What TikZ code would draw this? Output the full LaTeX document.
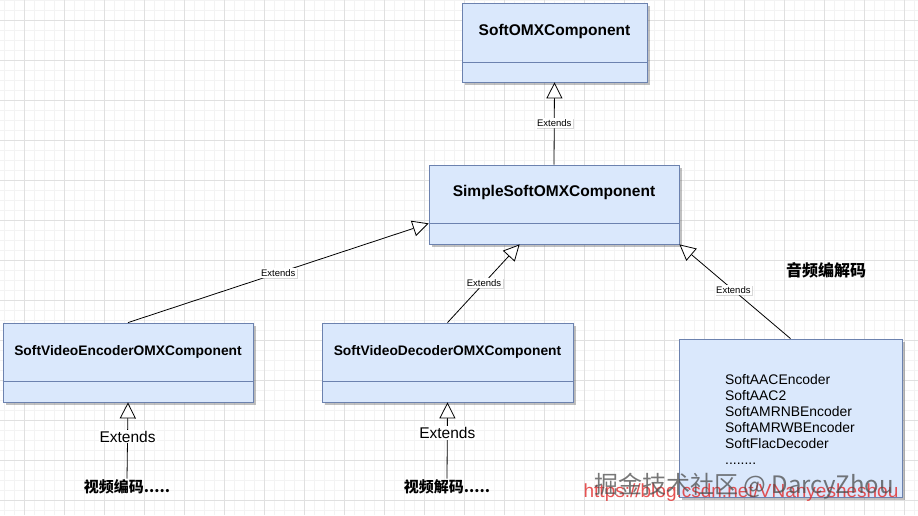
\documentclass[tikz,border=0pt]{standalone}
\usepackage{fontspec}
\setmainfont{Liberation Sans}
\newfontfamily\cjk{Noto Sans CJK SC}
\usetikzlibrary{arrows.meta,shadows,calc}

\definecolor{boxfill}{RGB}{218,232,252}
\definecolor{boxline}{RGB}{108,130,175}
\definecolor{gridmaj}{RGB}{224,224,224}
\definecolor{gridmin}{RGB}{243,243,243}
\definecolor{wmred}{RGB}{225,40,40}

\begin{document}
\begin{tikzpicture}[x=1pt,y=-1pt,
  umlbox/.style={draw=boxline, fill=boxfill, line width=0.8pt, inner sep=0pt,
    drop shadow={shadow xshift=3pt, shadow yshift=-3pt, opacity=0.35, fill=black!70}},
  divider/.style={draw=boxline, line width=0.7pt},
  bigtitle/.style={font=\bfseries\fontsize{15.5}{17}\selectfont, inner sep=0pt},
  smalltitle/.style={font=\bfseries\fontsize{13.8}{15}\selectfont, inner sep=0pt},
  ext/.style={draw=black, line width=0.8pt, -{Triangle[length=16pt,width=16pt,fill=white,line width=0.8pt]}},
  extlabel/.style={font=\fontsize{9.5}{10}\selectfont, fill=white, inner sep=1.5pt,
    drop shadow={shadow xshift=1.2pt, shadow yshift=-1.2pt, opacity=0.3}},
  biglabel/.style={font=\fontsize{15.5}{16}\selectfont, fill=white, inner sep=1pt},
  cjklabel/.style={font=\cjk\bfseries\fontsize{15}{16}\selectfont, inner sep=1pt},
  listtext/.style={font=\fontsize{13.9}{16}\selectfont, align=left, inner sep=0pt}
]
\useasboundingbox (0,0) rectangle (918,515);
\fill[white] (0,0) rectangle (918,515);
% grid
\foreach \x in {4,14,...,914} \draw[gridmin, line width=0.6pt] (\x,0) -- (\x,515);
\foreach \y in {0,10,...,510} \draw[gridmin, line width=0.6pt] (0,\y) -- (918,\y);
\foreach \x in {24,64,...,904} \draw[gridmaj, line width=0.8pt] (\x,0) -- (\x,515);
\foreach \y in {20,60,...,500} \draw[gridmaj, line width=0.8pt] (0,\y) -- (918,\y);

% boxes
\node[umlbox, minimum width=185pt, minimum height=79pt] (soft) at (554.5,42.5) {};
\draw[divider] ([yshift=20pt]soft.south west) -- ([yshift=20pt]soft.south east);
\node[bigtitle] (softt) at ([yshift=-29pt]soft.north) {SoftOMXComponent};

\node[umlbox, minimum width=250pt, minimum height=79pt] (simple) at (554,204.5) {};
\draw[divider] ([yshift=21pt]simple.south west) -- ([yshift=21pt]simple.south east);
\node[bigtitle] (simplet) at ([yshift=-28pt]simple.north) {SimpleSoftOMXComponent};

\node[umlbox, minimum width=250pt, minimum height=79pt] (enc) at (128,362.5) {};
\draw[divider] ([yshift=21pt]enc.south west) -- ([yshift=21pt]enc.south east);
\node[smalltitle] (enct) at ([yshift=-29pt]enc.north) {SoftVideoEncoderOMXComponent};

\node[umlbox, minimum width=251pt, minimum height=79pt] (dec) at (447.5,362.5) {};
\draw[divider] ([yshift=21pt]dec.south west) -- ([yshift=21pt]dec.south east);
\node[smalltitle] (dect) at ([yshift=-29pt]dec.north) {SoftVideoDecoderOMXComponent};

\node[umlbox, minimum width=223pt, minimum height=158pt] (audio) at (790.5,418) {};
\node[listtext, anchor=west] (audiot) at (725,419) {SoftAACEncoder\\SoftAAC2\\SoftAMRNBEncoder\\SoftAMRWBEncoder\\SoftFlacDecoder\\........};

% free texts
\node[cjklabel, font=\cjk\bfseries\fontsize{16}{17}\selectfont] (audiolbl) at (826,270) {音频编解码};
\node[cjklabel] (enccode) at (127,487) {视频编码.....};
\node[cjklabel] (deccode) at (447,487) {视频解码.....};

% connectors
\draw[ext] (simple.north) -- node[extlabel, pos=0.506] (l1) {Extends} (soft.south);
\draw[ext] (enc.north) -- node[extlabel, pos=0.5] (l2) {Extends} ([yshift=21pt]simple.south west);
\draw[ext] (dec.north) -- node[extlabel, pos=0.507] (l3) {Extends} ([xshift=91pt]simple.south west);
\draw[ext] (audio.north) -- node[extlabel, pos=0.514] (l4) {Extends} (simple.south east);
\draw[ext] (enccode.north) -- node[biglabel, pos=0.55] (l5) {Extends} (enc.south);
\draw[ext] (deccode.north) -- node[biglabel, pos=0.6] (l6) {Extends} (dec.south);

% watermark
\node[font=\fontsize{19}{20}\selectfont, text=wmred, text opacity=0.8, inner sep=0pt] (wm2) at (741,493) {https://blog.csdn.net/VNanyesheshou};
\node[font=\cjk\fontsize{24}{26}\selectfont, text=black!70, text opacity=0.75, inner sep=0pt] (wm1) at (744,486) {掘金技术社区 @ DarcyZhou};
\end{tikzpicture}
\end{document}
